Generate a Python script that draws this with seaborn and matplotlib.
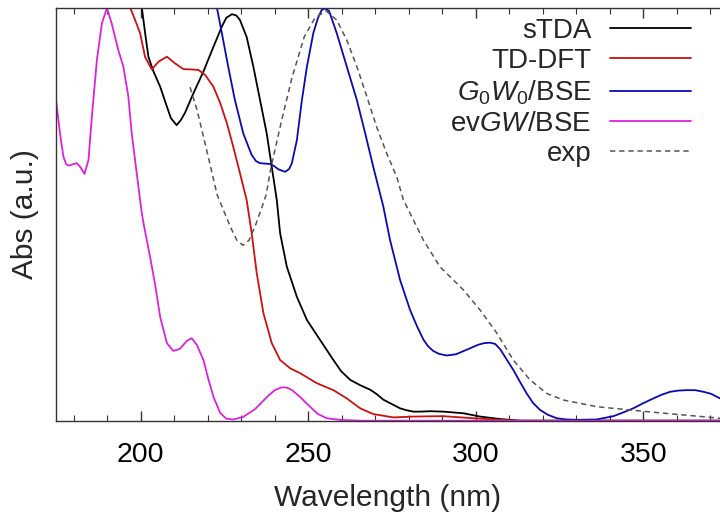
import matplotlib
matplotlib.use("Agg")
import matplotlib.pyplot as plt
import seaborn as sns
from matplotlib.ticker import MultipleLocator

# ---- spectra (wavelength in nm, normalised absorbance) ----
stda_wl = [199.6, 200.3, 201.3, 202.3, 203.8, 205.8, 207.8, 209.0, 210.7, 212.0,
           213.2, 215.7, 218.7, 221.7, 224.2, 225.5, 227.2, 228.5, 229.6, 231.6,
           233.6, 235.6, 237.6, 239.1, 240.6, 241.6, 243.6, 246.6, 249.6, 253.5,
           257.5, 259.8, 262.5, 265.5, 268.5, 270.5, 272.4, 275.0, 277.4, 279.5,
           281.4, 283.4, 286.4, 290.3, 296.3, 301.3, 307.3, 313.3, 372.9]
stda_abs = [1.031, 1.002, 0.939, 0.881, 0.846, 0.809, 0.761, 0.733, 0.716, 0.729,
            0.746, 0.793, 0.846, 0.906, 0.955, 0.976, 0.985, 0.982, 0.971, 0.930,
            0.858, 0.777, 0.696, 0.615, 0.535, 0.454, 0.373, 0.300, 0.244, 0.196,
            0.147, 0.120, 0.099, 0.086, 0.075, 0.064, 0.051, 0.040, 0.030, 0.025,
            0.022, 0.022, 0.023, 0.022, 0.018, 0.010, 0.004, 0.0, 0.0]

tddft_wl = [195.6, 196.8, 198.3, 199.8, 201.3, 203.3, 205.3, 207.8, 210.2, 212.7,
            215.2, 217.2, 219.2, 221.7, 223.7, 225.7, 227.6, 229.6, 231.6, 233.1,
            234.6, 236.6, 239.1, 241.6, 244.6, 247.6, 252.5, 257.5, 261.5, 265.5,
            269.4, 275.4, 281.3, 290.2, 299.2, 307.2, 313.3, 372.9]
tddft_abs = [1.027, 1.002, 0.971, 0.939, 0.881, 0.851, 0.870, 0.882, 0.866, 0.852,
             0.851, 0.850, 0.838, 0.809, 0.770, 0.721, 0.664, 0.600, 0.535, 0.455,
             0.358, 0.261, 0.188, 0.147, 0.127, 0.115, 0.091, 0.074, 0.054, 0.030,
             0.016, 0.008, 0.010, 0.011, 0.006, 0.002, 0.0, 0.0]

g0w0_wl = [222.2, 222.7, 224.2, 226.1, 228.1, 230.6, 233.1, 234.4, 235.6, 237.1,
           238.6, 239.8, 241.1, 243.1, 244.3, 245.1, 246.6, 248.1, 249.6, 251.5,
           252.9, 254.0, 255.0, 256.2, 258.5, 261.5, 264.5, 267.0, 269.4, 272.4,
           274.4, 277.4, 280.4, 282.5, 284.4, 285.8, 287.3, 289.0, 291.3, 294.1,
           297.3, 300.7, 302.5, 304.3, 305.8, 307.3, 309.1, 311.2, 313.2, 315.2,
           317.1, 319.2, 321.6, 324.2, 327.0, 330.2, 336.1, 341.1, 344.0, 347.0,
           349.9, 353.0, 355.5, 358.0, 360.5, 363.0, 365.5, 368.0, 370.3, 372.9]
g0w0_abs = [1.027, 1.002, 0.939, 0.858, 0.777, 0.696, 0.644, 0.629, 0.624, 0.623,
            0.622, 0.617, 0.609, 0.603, 0.610, 0.624, 0.680, 0.777, 0.858, 0.939,
            0.976, 0.995, 0.999, 0.993, 0.939, 0.858, 0.777, 0.696, 0.615, 0.519,
            0.438, 0.341, 0.268, 0.228, 0.196, 0.180, 0.169, 0.162, 0.158, 0.161,
            0.172, 0.184, 0.188, 0.189, 0.186, 0.173, 0.150, 0.123, 0.094, 0.066,
            0.043, 0.026, 0.014, 0.006, 0.003, 0.002, 0.003, 0.011, 0.020, 0.030,
            0.042, 0.054, 0.063, 0.070, 0.073, 0.074, 0.074, 0.070, 0.065, 0.054]

evgw_wl = [174.7, 175.9, 176.9, 177.7, 178.4, 179.6, 180.9, 182.0, 183.2, 184.4,
           185.4, 186.9, 188.4, 189.9, 191.3, 193.3, 194.8, 196.3, 197.3, 198.8,
           200.3, 200.8, 202.8, 204.3, 205.8, 207.8, 209.7, 211.7, 213.7, 215.2,
           216.8, 218.7, 220.1, 221.7, 223.7, 225.5, 227.6, 230.5, 234.1, 238.0,
           240.0, 242.1, 243.7, 245.2, 247.6, 250.5, 252.9, 255.5, 259.5, 265.5,
           372.9]
evgw_abs = [0.777, 0.696, 0.640, 0.622, 0.618, 0.621, 0.624, 0.614, 0.598, 0.632,
            0.737, 0.874, 0.963, 1.000, 0.963, 0.898, 0.858, 0.785, 0.696, 0.599,
            0.503, 0.479, 0.396, 0.329, 0.251, 0.188, 0.169, 0.174, 0.193, 0.200,
            0.183, 0.147, 0.103, 0.058, 0.019, 0.005, 0.003, 0.009, 0.028, 0.060,
            0.074, 0.081, 0.080, 0.074, 0.057, 0.034, 0.016, 0.006, 0.002, 0.0,
            0.0]

exp_wl = [214.7, 216.8, 218.6, 220.7, 222.8, 224.9, 226.9, 228.7, 230.5, 232.3,
          234.4, 236.2, 237.4, 238.9, 242.2, 245.2, 248.8, 252.0, 255.3, 258.5,
          261.5, 264.5, 267.5, 270.4, 273.4, 276.4, 278.4, 281.4, 284.4, 289.3,
          296.3, 301.3, 306.3, 311.2, 316.2, 321.2, 326.2, 336.1, 351.0, 372.9]
exp_abs = [0.808, 0.753, 0.692, 0.620, 0.547, 0.506, 0.467, 0.437, 0.425, 0.437,
           0.477, 0.518, 0.547, 0.615, 0.733, 0.833, 0.930, 0.976, 0.993, 0.971,
           0.922, 0.858, 0.785, 0.712, 0.648, 0.591, 0.535, 0.486, 0.437, 0.373,
           0.317, 0.268, 0.212, 0.147, 0.099, 0.066, 0.050, 0.034, 0.022, 0.006]

labels = ["sTDA", "TD-DFT", "$G_0W_0$/BSE", "ev$GW$/BSE", "exp"]
colors = ["#000000", "#cc1111", "#0a0ab4", "#dd22dd", "#555555"]

sns.set_style("ticks")
plt.rcParams["font.family"] = ["Liberation Sans", "DejaVu Sans"]
plt.rcParams["mathtext.fontset"] = "custom"
plt.rcParams["mathtext.rm"] = "Liberation Sans"
plt.rcParams["mathtext.it"] = "Liberation Sans:italic"

fig = plt.figure(figsize=(7.2, 5.19), dpi=100)
ax = fig.add_axes([0.0778, 0.1894, 0.9222, 0.7952])

series = [(stda_wl, stda_abs), (tddft_wl, tddft_abs), (g0w0_wl, g0w0_abs),
          (evgw_wl, evgw_abs)]
for (wl, ab), lab, col in zip(series, labels[:4], colors[:4]):
    sns.lineplot(x=wl, y=ab, ax=ax, color=col, lw=1.3, label=lab, sort=False)
sns.lineplot(x=exp_wl, y=exp_abs, ax=ax, color=colors[4], lw=1.1, label=labels[4],
             sort=False)
ax.lines[-1].set_dashes((3.5, 2.5))

ax.set_xlim(174.7, 372.9)
ax.set_ylim(0, 1.0)
ax.set_yticks([])
ax.xaxis.set_major_locator(MultipleLocator(50))
ax.xaxis.set_minor_locator(MultipleLocator(10))
ax.tick_params(axis="x", which="both", direction="in", top=True, bottom=True,
               labelsize=20.5, colors="#333333", labelcolor="black", pad=15)
ax.tick_params(axis="x", which="major", length=7, width=1.0)
ax.tick_params(axis="x", which="minor", length=4, width=0.8)
for side in ["left", "bottom", "top"]:
    ax.spines[side].set_color("#333333")
    ax.spines[side].set_linewidth(1.0)
ax.spines["right"].set_visible(False)

ax.set_xlabel("Wavelength (nm)", fontsize=21.5, labelpad=12)
ax.set_ylabel("Abs (a.u.)", fontsize=21.5, labelpad=12)

leg = ax.legend(loc="upper right", bbox_to_anchor=(691 / 720, 1 - 18 / 519),
                bbox_transform=fig.transFigure, frameon=False, markerfirst=False,
                fontsize=20, handlelength=2.9, handletextpad=0.68,
                labelspacing=0.15, borderpad=0, borderaxespad=0)
for t in leg.get_texts():
    t.set_ha("right")

fig.savefig("out.png", dpi=100)
